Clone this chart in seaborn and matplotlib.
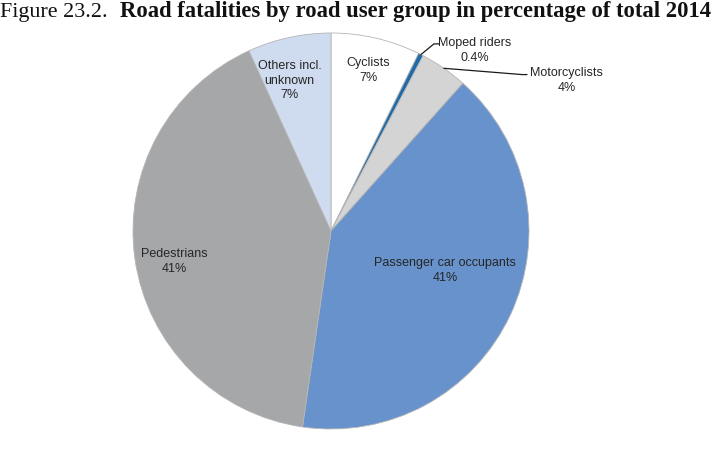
import seaborn as sns
import matplotlib.pyplot as plt
import numpy as np

# Data (clockwise from 12 o'clock)
groups = ['Cyclists', 'Moped riders', 'Motorcyclists', 'Passenger car occupants',
          'Pedestrians', 'Others incl.\nunknown']
shares = [7.3, 0.4, 3.9, 40.7, 40.9, 6.8]
colors = ['#ffffff', '#1f6aa8', '#d4d4d4', '#6792cc', '#a6a7a9', '#cfdbef']

sns.set_theme(style="white")
plt.rcParams['font.family'] = ['Liberation Sans', 'DejaVu Sans']

fig = plt.figure(figsize=(7.13, 4.55), dpi=100)

# pie axes: centre (331, 231) px, radius 198 px
W, H = 713, 455
cx, cy, r = 331, 231, 198
ax = fig.add_axes([(cx - r) / W, (H - cy - r) / H, 2 * r / W, 2 * r / H])

wedges, _ = ax.pie(shares, colors=colors, startangle=90, counterclock=False,
                   wedgeprops=dict(edgecolor='#b5b5b5', linewidth=0.6))
ax.set_xlim(-1, 1)
ax.set_ylim(-1, 1)
ax.set_aspect('equal')
ax.axis('off')


def pct(v):
    return f"{v:.0f}%" if v >= 1 else f"{v:.1f}%"


# inside labels (data coords)
inside_pos = {0: (0.19, 0.81), 3: (0.575, -0.20), 4: (-0.79, -0.155), 5: (-0.21, 0.76)}
for i, (x, y) in inside_pos.items():
    ax.text(x, y, f"{groups[i]}\n{pct(shares[i])}", ha='center', va='center',
            fontsize=9, color='#262626', linespacing=1.32)

# outside labels with leader lines
outside = {1: ((0.52, 0.945), (0.725, 0.912)), 2: ((0.965, 0.79), (1.19, 0.76))}
for i, (elbow, txt) in outside.items():
    w = wedges[i]
    ang = np.deg2rad((w.theta1 + w.theta2) / 2)
    sx, sy = np.cos(ang), np.sin(ang)
    ax.plot([sx, elbow[0], elbow[0] + 0.025], [sy, elbow[1], elbow[1]],
            color='#1a1a1a', lw=0.9, clip_on=False)
    ax.text(txt[0], txt[1], f"{groups[i]}\n{pct(shares[i])}", ha='center', va='center',
            fontsize=9, color='#262626', linespacing=1.32, clip_on=False)

# title: regular figure number + bold caption
ty = 1 - 17 / H
t1 = fig.text(0.0, ty, "Figure 23.2.", fontsize=15.8, va='baseline', ha='left',
              family=['Liberation Serif', 'DejaVu Serif'], color='#111111')
fig.canvas.draw()
bb = t1.get_window_extent(fig.canvas.get_renderer())
fig.text((bb.x1 + 12) / W, ty,
         "Road fatalities by road user group in percentage of total 2014",
         fontsize=16.3, fontweight='bold', va='baseline', ha='left',
         family=['Liberation Serif', 'DejaVu Serif'], color='#111111')

plt.savefig('out.png', dpi=100)
